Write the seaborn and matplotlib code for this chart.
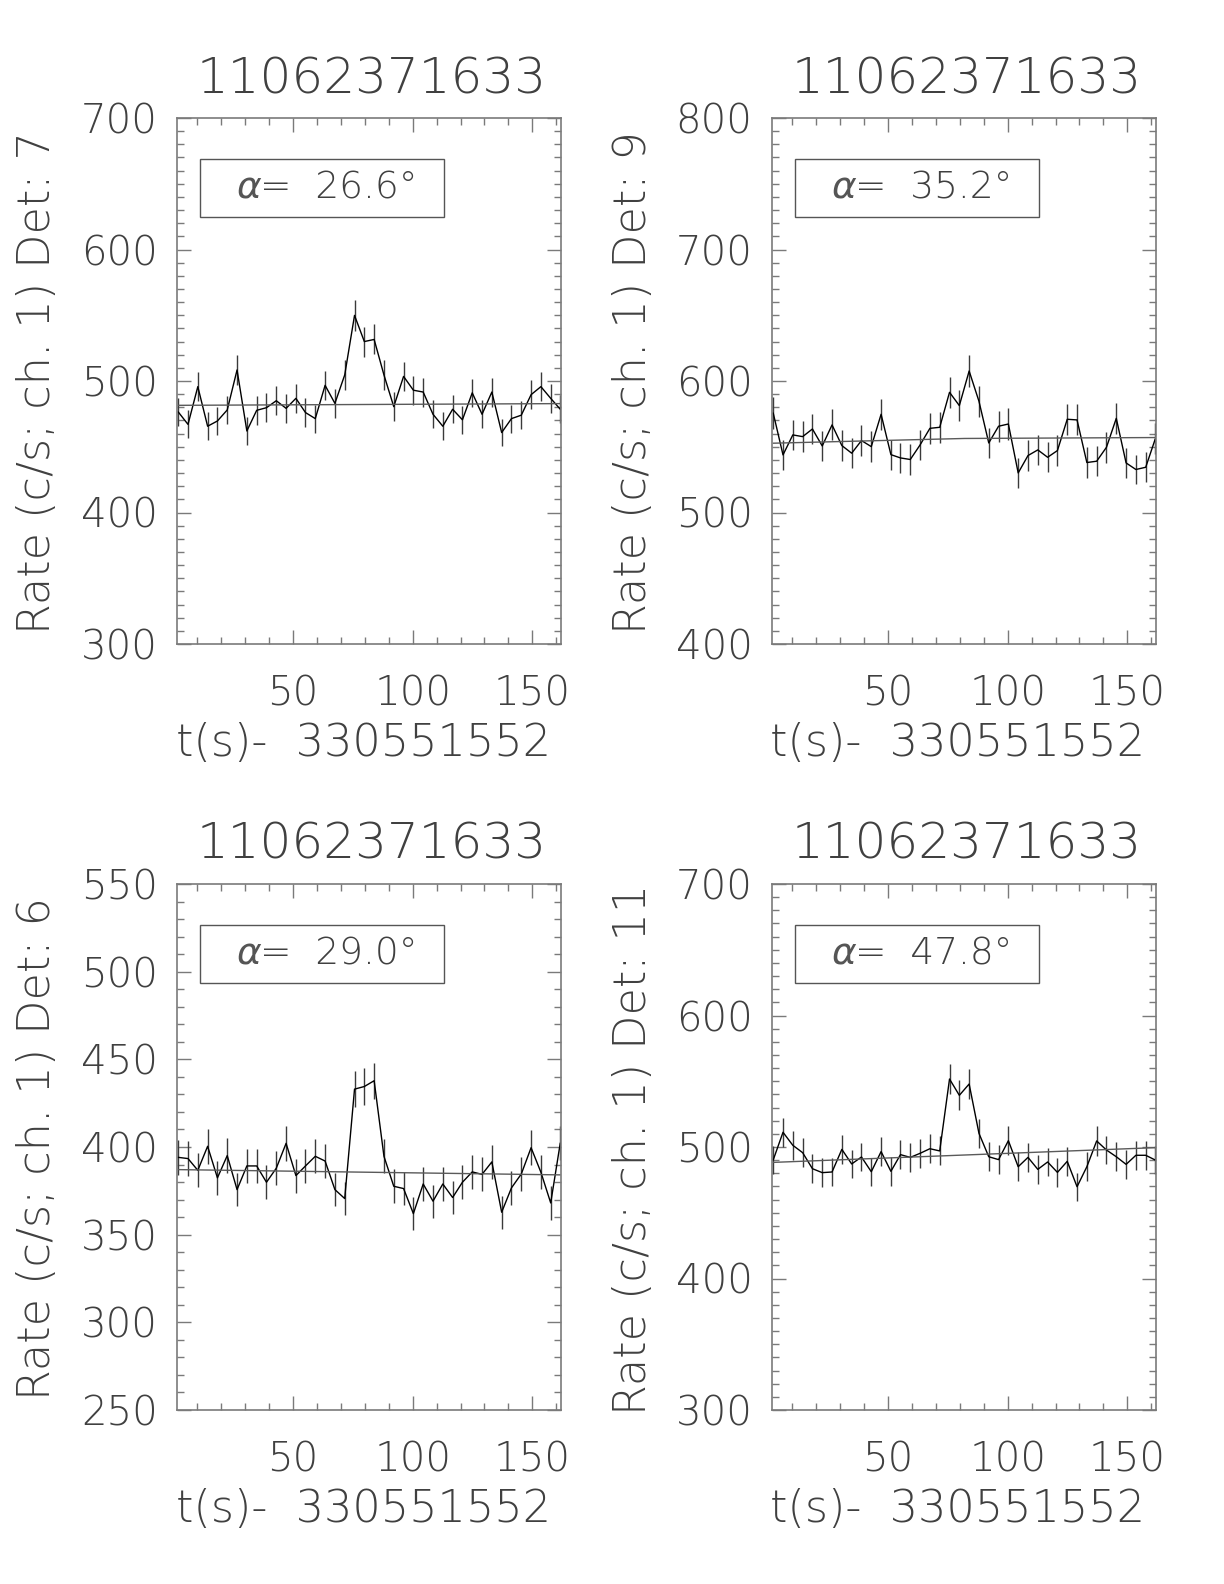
import matplotlib
matplotlib.use("Agg")
import matplotlib.pyplot as plt
import matplotlib.patches as mpatches
from matplotlib.ticker import MultipleLocator
import seaborn as sns

W, H = 1224, 1584

TITLE = "11062371633"
XLABEL = "t(s)-  330551552"

# time bins (s since 330551552)
t = [2.0, 6.1, 10.2, 14.3, 18.4, 22.5, 26.6, 30.7, 34.8, 38.9,
     43.0, 47.1, 51.2, 55.2, 59.3, 63.4, 67.5, 71.6, 75.7, 79.8,
     83.9, 88.0, 92.1, 96.2, 100.3, 104.4, 108.5, 112.6, 116.7, 120.8,
     124.9, 129.0, 133.1, 137.2, 141.3, 145.4, 149.5, 153.6, 157.7, 161.7]

# Det 7
rate_7 = [476.5, 467.0, 495.7, 465.6, 469.6, 478.0, 508.4, 462.0, 477.7, 479.7,
          485.0, 479.2, 486.8, 476.0, 471.4, 496.7, 483.0, 504.6, 549.9, 530.0,
          531.6, 504.6, 480.5, 503.5, 493.0, 491.6, 474.7, 465.6, 478.5, 470.5,
          491.0, 474.7, 491.6, 460.8, 471.4, 474.0, 489.6, 495.7, 486.8, 478.5]
err_7 = [10.8, 10.7, 11.0, 10.7, 10.7, 10.8, 11.1, 10.6, 10.8, 10.8,
         10.9, 10.8, 10.9, 10.8, 10.7, 11.0, 10.9, 11.1, 11.6, 11.4,
         11.4, 11.1, 10.8, 11.1, 11.0, 11.0, 10.8, 10.7, 10.8, 10.7,
         10.9, 10.8, 11.0, 10.6, 10.7, 10.8, 10.9, 11.0, 10.9, 10.8]
bkg_t_7 = [2.0, 161.7]
bkg_7 = [481.5, 482.8]

# Det 9
rate_9 = [575.7, 543.8, 559.0, 557.7, 563.5, 550.6, 566.6, 550.9, 545.1, 554.7,
          550.1, 574.7, 544.0, 541.5, 540.3, 551.4, 564.0, 564.8, 591.4, 581.3,
          607.6, 584.6, 552.9, 565.6, 567.3, 530.1, 543.3, 547.6, 542.0, 547.1,
          570.9, 570.4, 538.0, 539.0, 549.6, 571.6, 537.7, 532.7, 534.4, 556.0]
err_9 = [11.9, 11.5, 11.7, 11.7, 11.7, 11.6, 11.8, 11.6, 11.5, 11.6,
         11.6, 11.8, 11.5, 11.5, 11.5, 11.6, 11.7, 11.7, 12.0, 11.9,
         12.2, 11.9, 11.6, 11.8, 11.8, 11.4, 11.5, 11.6, 11.5, 11.6,
         11.8, 11.8, 11.5, 11.5, 11.6, 11.8, 11.5, 11.4, 11.4, 11.7]
bkg_t_9 = [2.0, 82.0, 161.7]
bkg_9 = [552.7, 556.3, 557.0]

# Det 6
rate_6 = [394.1, 393.4, 386.7, 400.4, 382.4, 395.1, 375.7, 389.2, 389.2, 379.9,
          387.9, 402.1, 383.7, 389.2, 394.7, 392.0, 375.7, 370.6, 433.0, 434.5,
          437.8, 394.7, 377.6, 376.3, 362.0, 378.9, 369.1, 378.9, 371.2, 379.9,
          385.8, 384.4, 391.5, 362.8, 376.7, 384.6, 399.6, 385.6, 368.1, 402.3]
err_6 = [9.8, 9.8, 9.7, 9.9, 9.7, 9.8, 9.6, 9.7, 9.7, 9.6,
         9.7, 9.9, 9.7, 9.7, 9.8, 9.8, 9.6, 9.5, 10.3, 10.3,
         10.3, 9.8, 9.6, 9.6, 9.4, 9.6, 9.5, 9.6, 9.5, 9.6,
         9.7, 9.7, 9.8, 9.4, 9.6, 9.7, 9.9, 9.7, 9.5, 9.9]
bkg_t_6 = [2.0, 161.7]
bkg_6 = [387.1, 384.1]

# Det 11
rate_11 = [490.1, 511.2, 501.3, 495.7, 483.5, 480.5, 481.0, 498.2, 487.1, 492.4,
           481.2, 496.5, 481.5, 494.2, 492.1, 495.2, 498.7, 497.0, 551.7, 539.3,
           547.9, 510.4, 492.6, 490.4, 504.8, 485.0, 492.1, 483.0, 488.6, 480.7,
           489.1, 469.8, 485.0, 504.6, 497.7, 492.6, 486.8, 493.7, 493.7, 490.1]
err_11 = [10.9, 11.2, 11.1, 11.0, 10.9, 10.8, 10.8, 11.0, 10.9, 11.0,
          10.8, 11.0, 10.8, 11.0, 11.0, 11.0, 11.0, 11.0, 11.6, 11.5,
          11.6, 11.2, 11.0, 10.9, 11.1, 10.9, 11.0, 10.9, 10.9, 10.8,
          10.9, 10.7, 10.9, 11.1, 11.0, 11.0, 10.9, 11.0, 11.0, 10.9]
bkg_t_11 = [2.0, 161.7]
bkg_11 = [488.3, 499.5]

dets = ["7", "9", "6", "11"]
angles = ["26.6", "35.2", "29.0", "47.8"]
ylims = [(300, 700), (400, 800), (250, 550), (300, 700)]
ymajor = [100, 100, 50, 100]
panels = [(rate_7, err_7, bkg_t_7, bkg_7), (rate_9, err_9, bkg_t_9, bkg_9),
          (rate_6, err_6, bkg_t_6, bkg_6), (rate_11, err_11, bkg_t_11, bkg_11)]

sns.set_style("ticks")
plt.rcParams["font.family"] = ["DejaVu Sans"]
plt.rcParams["font.weight"] = 200
TXT = "#404040"
AXC = "#7a7a7a"

fig = plt.figure(figsize=(W / 100, H / 100), dpi=100)

# axes boxes in pixels: left, right, top, bottom
boxes = [(177, 561, 118, 644), (772, 1156, 118, 644),
         (177, 561, 884, 1410), (772, 1156, 884, 1410)]

for k, (l, r, tp, b) in enumerate(boxes):
    rate, err, bt, bk = panels[k]
    ax = fig.add_axes([l / W, 1 - b / H, (r - l) / W, (b - tp) / H])
    ax.vlines(t, [v - e for v, e in zip(rate, err)], [v + e for v, e in zip(rate, err)],
              color="#3a3a3a", lw=1.0)
    sns.lineplot(x=t, y=rate, ax=ax, color="black", lw=1.0, estimator=None)
    sns.lineplot(x=bt, y=bk, ax=ax, color="#5a5a5a", lw=1.0, estimator=None)
    ax.set_xlim(1.5, 162)
    ax.set_ylim(*ylims[k])
    ax.xaxis.set_major_locator(MultipleLocator(50))
    ax.xaxis.set_minor_locator(MultipleLocator(10))
    ax.yaxis.set_major_locator(MultipleLocator(ymajor[k]))
    ax.yaxis.set_minor_locator(MultipleLocator(10))
    ax.tick_params(which="both", direction="in", top=True, right=True,
                   color=AXC, width=1.0, labelcolor=TXT, labelsize=29)
    ax.tick_params(which="major", length=10)
    ax.tick_params(which="minor", length=5)
    ax.tick_params(axis="y", pad=14)
    ax.tick_params(axis="x", pad=22)
    for s in ax.spines.values():
        s.set_color(AXC)
        s.set_linewidth(1.2)
    ax.set_xlabel("")
    ax.set_ylabel("")

    # angle box
    ax.add_patch(mpatches.Rectangle((0.06, 0.812), 0.635, 0.11, transform=ax.transAxes,
                                    fill=False, edgecolor="#555555", lw=1.0))
    ax.text(0.157, 0.866, "α", transform=ax.transAxes, fontstyle="italic",
            ha="left", va="center", fontsize=27, color="#555555")
    ax.text(0.215, 0.866, f"=  {angles[k]}°", transform=ax.transAxes,
            ha="left", va="center", fontsize=27, color=TXT)

    cx = (l + r) / 2
    fig.text((cx + 3) / W, 1 - (79 if k < 2 else 845) / H, TITLE,
             ha="center", va="center", fontsize=36, color=TXT)
    fig.text((cx - 6) / W, 1 - (b + 100) / H, XLABEL,
             ha="center", va="center", fontsize=32, color=TXT)
    fig.text((l - 139) / W, 1 - ((tp + b) / 2 + 2) / H, f"Rate (c/s; ch. 1) Det: {dets[k]}",
             rotation=90, ha="center", va="center", fontsize=32, color=TXT)

fig.savefig("out.png", dpi=100)
